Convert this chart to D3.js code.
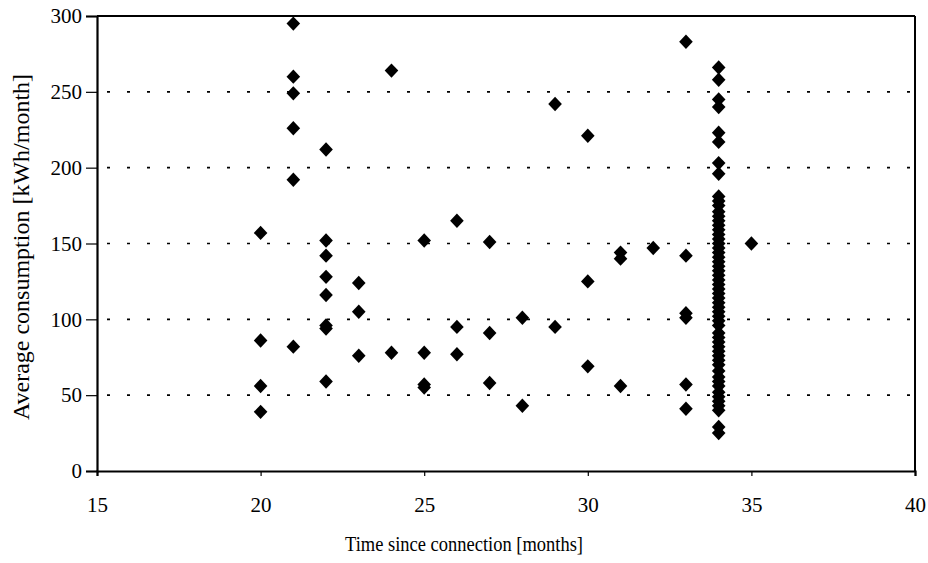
<!DOCTYPE html>
<html>
<head>
<meta charset="utf-8">
<script src="https://cdn.jsdelivr.net/npm/d3@7"></script>
<style>
  body { margin: 0; background: #fff; }
  text { font-family: "Liberation Serif", "DejaVu Serif", serif; fill: #000; }
</style>
</head>
<body>
<div id="chart"></div>
<script>
// months since connection, one array of consumption values per month
const months = [20, 21, 22, 23, 24, 25, 26, 27, 28, 29, 30, 31, 32, 33, 34, 35];
const consumption = [
  [157, 86, 56, 39],
  [295, 260, 249, 226, 192, 82],
  [212, 152, 142, 128, 116, 96, 94, 59],
  [124, 105, 76],
  [264, 78],
  [152, 78, 57, 55],
  [165, 95, 77],
  [151, 91, 58],
  [101, 43],
  [242, 95],
  [221, 125, 69],
  [144, 140, 56],
  [147],
  [283, 142, 104, 101, 57, 41],
  [266, 258, 245, 240, 223, 217, 203, 196, 181, 178, 175, 171, 168, 165, 162,
   159, 156, 153, 150, 147, 144, 141, 138, 135, 132, 129, 126, 123, 120, 117,
   114, 111, 108, 105, 102, 99, 96, 91, 88, 85, 82, 79, 76, 73, 70, 66, 62,
   59, 56, 52, 49, 46, 43, 40, 29, 25],
  [150]
];
const xTicks = [15, 20, 25, 30, 35, 40];
const yTicks = [0, 50, 100, 150, 200, 250, 300];
const gridValues = [50, 100, 150, 200, 250];

const points = [];
months.forEach(function (m, i) {
  consumption[i].forEach(function (v) { points.push({ x: m, y: v }); });
});

const W = 928, H = 563;
const margin = { top: 16, right: 13, bottom: 92, left: 97 };
const width = W - margin.left - margin.right;
const height = H - margin.top - margin.bottom;

const xScale = d3.scaleLinear().domain([15, 40]).range([0, width]);
const yScale = d3.scaleLinear().domain([0, 300]).range([height, 0]);

const svg = d3.select('#chart').append('svg')
  .attr('width', W).attr('height', H);
const g = svg.append('g').attr('transform', `translate(${margin.left},${margin.top})`);

// dotted gridlines
g.selectAll('.grid').data(gridValues).enter().append('line')
  .attr('x1', 10).attr('x2', width)
  .attr('y1', d => yScale(d)).attr('y2', d => yScale(d))
  .attr('stroke', '#000').attr('stroke-width', 1.6)
  .attr('stroke-dasharray', '3,17');

// frame
g.append('line').attr('x1', 0).attr('x2', width).attr('y1', 0).attr('y2', 0)
  .attr('stroke', '#000').attr('stroke-width', 2);
g.append('line').attr('x1', width).attr('x2', width).attr('y1', 0).attr('y2', height)
  .attr('stroke', '#000').attr('stroke-width', 2);

const xAxis = g.append('g').attr('transform', `translate(0,${height})`)
  .call(d3.axisBottom(xScale).tickValues(xTicks).tickSize(5).tickPadding(21).tickFormat(d3.format('d')));
const yAxis = g.append('g')
  .call(d3.axisLeft(yScale).tickValues(yTicks).tickSize(11).tickPadding(4).tickFormat(d3.format('d')));

[xAxis, yAxis].forEach(function (a) {
  a.select('.domain').attr('stroke', '#000').attr('stroke-width', 2.2);
  a.selectAll('.tick line').attr('stroke', '#000').attr('stroke-width', 1.2);
  a.selectAll('.tick text').attr('font-size', 21)
    .attr('font-family', '"Liberation Serif", serif').attr('fill', '#000');
});

// diamond markers
g.selectAll('.pt').data(points).enter().append('path')
  .attr('class', 'pt')
  .attr('transform', d => `translate(${xScale(d.x)},${yScale(d.y)})`)
  .attr('d', 'M0,-7.2L6.8,0L0,7.2L-6.8,0Z')
  .attr('fill', '#000');

svg.append('text')
  .attr('x', 345).attr('y', 551)
  .attr('font-size', 22)
  .attr('textLength', 238).attr('lengthAdjust', 'spacingAndGlyphs')
  .text('Time since connection [months]');

svg.append('text')
  .attr('transform', 'translate(29,247) rotate(-90)')
  .attr('text-anchor', 'middle').attr('font-size', 24)
  .text('Average consumption [kWh/month]');
</script>
</body>
</html>
